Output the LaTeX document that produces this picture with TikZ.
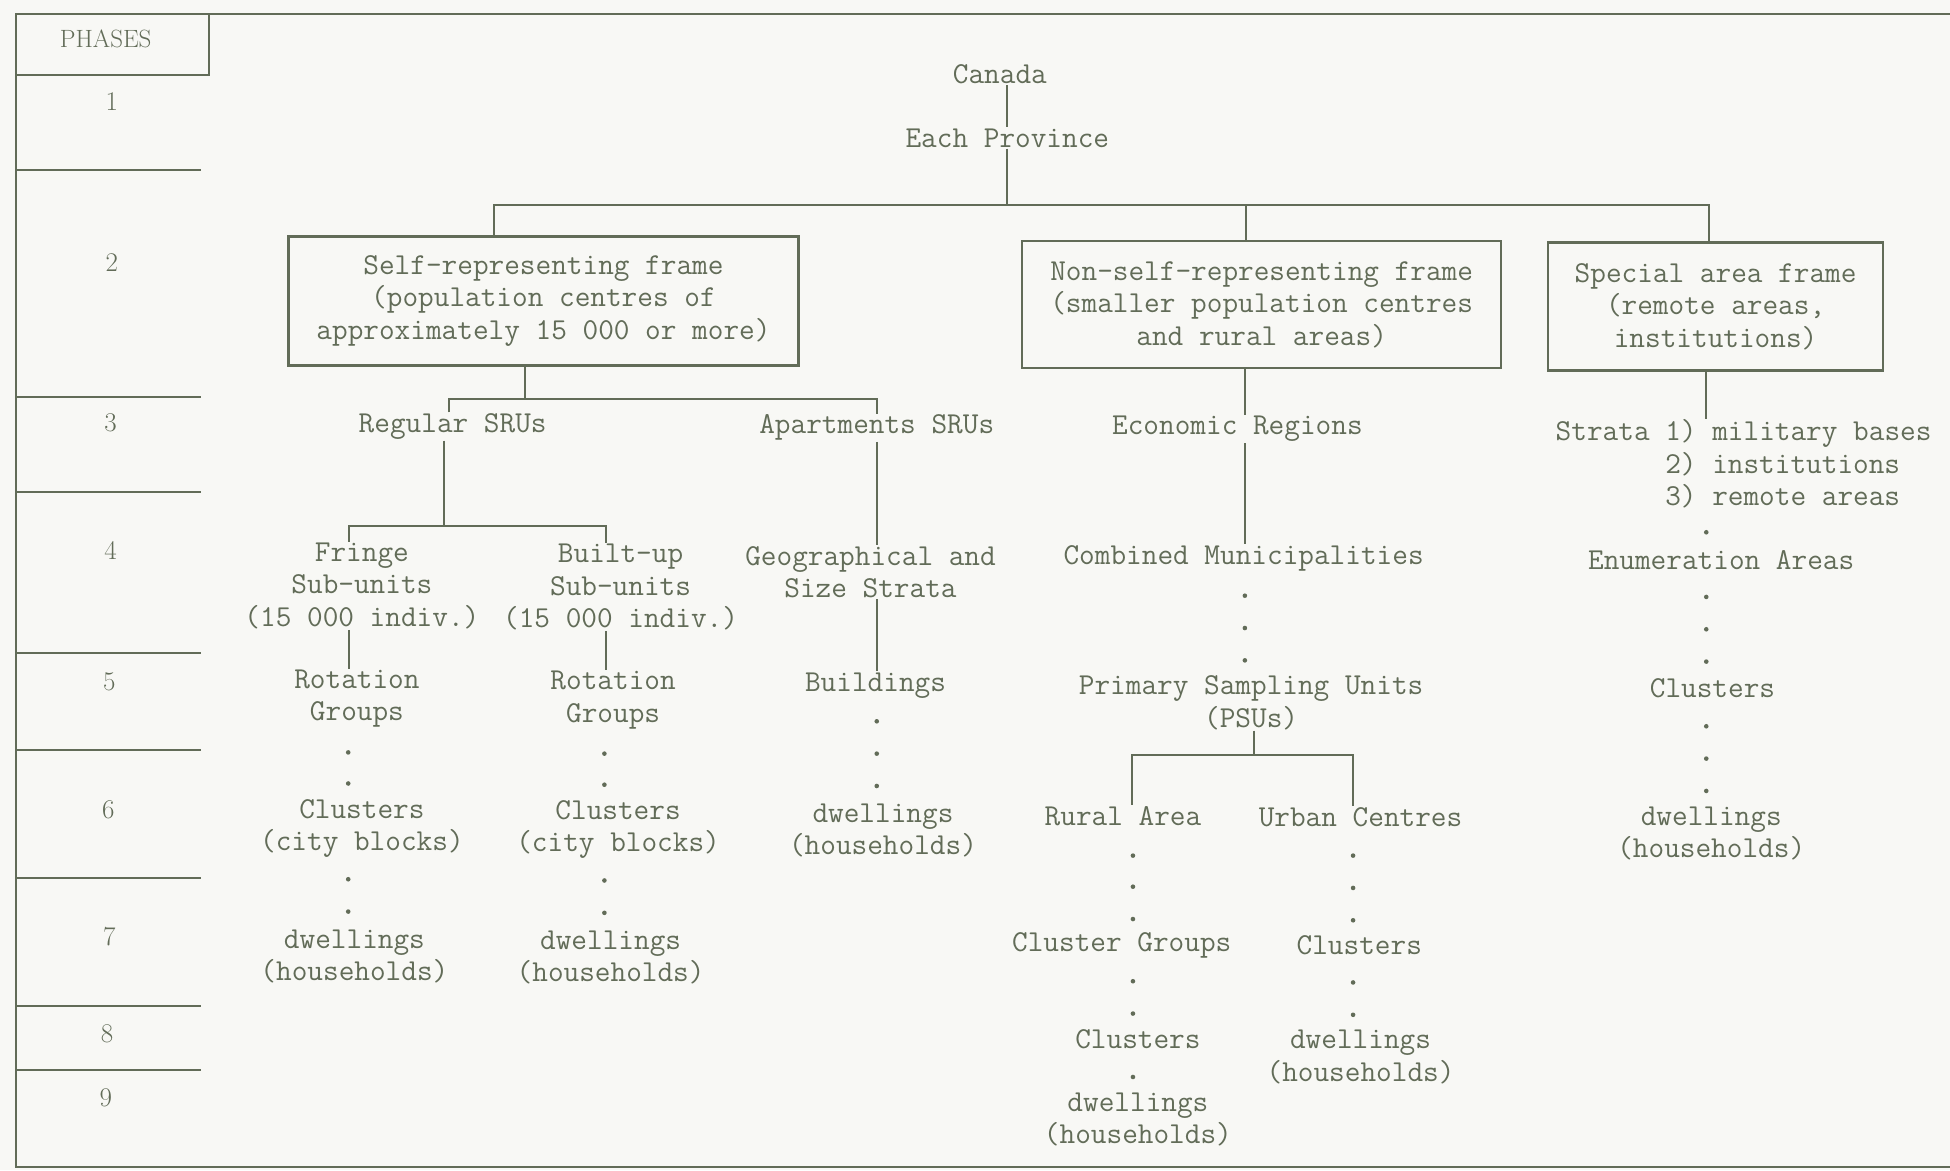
\documentclass[tikz,border=0pt]{standalone}
\usetikzlibrary{calc}
\definecolor{ink}{RGB}{98,108,88}
\definecolor{paper}{RGB}{248,248,245}
\begin{document}
\begin{tikzpicture}[x=1.2436pt,y=-1.2436pt,
  tx/.style={font=\fontsize{30.4}{32.3}\selectfont\ttfamily, text=ink, align=center, inner sep=1pt},
  ph/.style={font=\fontsize{27}{29}\selectfont\rmfamily, text=ink, inner sep=0pt},
  framebox/.style={tx, draw=ink, line width=2.3pt},
  ln/.style={draw=ink, line width=2pt},
  dotm/.style={fill=ink}
  ]
\fill[paper] (0,0) rectangle (1568,941);
\useasboundingbox (0,0) rectangle (1568,941);

% phases column
\draw[ln] (1568,11) -- (13,11) -- (13,938) -- (1568,938);
\draw[ln] (13,60) -- (168,60) -- (168,11);
\foreach \yy in {137,319,396,525,603,706,809,860}
  \draw[ln] (13,\yy) -- (162,\yy);
\node[ph, font=\fontsize{25}{27}\selectfont\rmfamily] (phh) at (85,31) {PHASES};
\node[ph] (p1) at (90,82) {1};
\node[ph] (p2) at (90,211) {2};
\node[ph] (p3) at (89,340) {3};
\node[ph] (p4) at (89,443) {4};
\node[ph] (p5) at (88,548) {5};
\node[ph] (p6) at (87,651) {6};
\node[ph] (p7) at (88,753) {7};
\node[ph] (p8) at (86,831) {8};
\node[ph] (p9) at (85,883) {9};

% top
\node[tx] (canada) at (804,60) {Canada};
\node[tx] (prov) at (810,111) {Each Province};

% frames
\node[framebox, minimum width=510pt, minimum height=129pt] (srf) at (437,242)
  {Self-representing frame\\(population centres of\\approximately 15 000 or more)};
\node[framebox, minimum width=479pt, minimum height=127pt] (nsr) at (1014.5,245)
  {Non-self-representing frame\\(smaller population centres\\and rural areas)};
\node[framebox, minimum width=334.5pt, minimum height=128pt] (spec) at (1379.5,246.5)
  {Special area frame\\(remote areas,\\institutions)};

% self-representing branch
\node[tx] (reg) at (364,343) {Regular SRUs};
\node[tx] (apt) at (705,344) {Apartments SRUs};
\node[tx] (fr) at (291,471) {Fringe\\Sub-units\\(15 000 indiv.)};
\node[tx] (bu) at (499,472) {Built-up\\Sub-units\\(15 000 indiv.)};
\node[tx] (geo) at (700,460) {Geographical and\\Size Strata};
\node[tx] (bld) at (704,551) {Buildings};
\node[tx] (rot1) at (287,562) {Rotation\\Groups};
\node[tx] (rot2) at (493,563) {Rotation\\Groups};
\node[tx] (cl1) at (291,666) {Clusters\\(city blocks)};
\node[tx] (cl2) at (497,667) {Clusters\\(city blocks)};
\node[tx] (dw1) at (285,769) {dwellings\\(households)};
\node[tx] (dw2) at (491,770) {dwellings\\(households)};
\node[tx] (dw3) at (710,668) {dwellings\\(households)};

% non-self-representing branch
\node[tx] (er) at (995,345) {Economic Regions};
\node[tx] (cm) at (1000,449) {Combined Municipalities};
\node[tx] (psu) at (1006,565) {Primary Sampling Units\\(PSUs)};
\node[tx] (rur) at (903,656) {Rural Area};
\node[tx] (urb) at (1094,657) {Urban Centres};
\node[tx] (cg) at (902,760) {Cluster Groups};
\node[tx] (cl3) at (915,836) {Clusters};
\node[tx] (dw4) at (915,900) {dwellings\\(households)};
\node[tx] (cl4) at (1093,760) {Clusters};
\node[tx] (dw5) at (1094,850) {dwellings\\(households)};

% special area branch
\node[tx, anchor=west, align=left] (str) at (1250,373)
  {Strata 1) military bases\\\hphantom{Strata }2) institutions\\\hphantom{Strata }3) remote areas};
\node[tx] (ea) at (1384,450) {Enumeration Areas};
\node[tx] (cl5) at (1377,553) {Clusters};
\node[tx] (dw6) at (1376,670) {dwellings\\(households)};

% connectors
\coordinate (b1) at (810,165);
\coordinate (b2) at (422,321);
\coordinate (b3) at (357,423);
\coordinate (b4) at (1008,607);
\coordinate (xa) at (281,0);
\coordinate (xb) at (487,0);
\coordinate (xp) at (705,0);
\coordinate (xc) at (1001,0);
\coordinate (xr) at (910,0);
\coordinate (xu) at (1088,0);
\coordinate (xs) at (1372,0);
\coordinate (xl) at (397,0);
\coordinate (xn) at (1002,0);
\coordinate (xt) at (1374,0);
\coordinate (xg) at (361,0);

\draw[ln] (canada.south -| b1) -- (prov.north -| b1);
\draw[ln] (prov.south -| b1) -- (b1);
\draw[ln] (srf.north -| xl) |- (b1) -| (spec.north -| xt);
\draw[ln] (nsr.north -| xn) -- (b1 -| xn);

\draw[ln] (srf.south -| b2) -- (b2);
\draw[ln] (reg.north -| xg) |- (b2) -| (apt.north -| xp);
\draw[ln] (reg.south -| b3) -- (b3);
\draw[ln] (fr.north -| xa) |- (b3) -| (bu.north -| xb);
\draw[ln] (apt.south -| xp) -- (geo.north -| xp);
\draw[ln] (geo.south -| xp) -- (bld.north -| xp);
\draw[ln] (fr.south -| xa) -- (rot1.north -| xa);
\draw[ln] (bu.south -| xb) -- (rot2.north -| xb);

\draw[ln] (nsr.south -| xc) -- (er.north -| xc);
\draw[ln] (er.south -| xc) -- (cm.north -| xc);
\draw[ln] (psu.south -| b4) -- (b4);
\draw[ln] (rur.north -| xr) |- (b4) -| (urb.north -| xu);

\draw[ln] (spec.south -| xs) -- (str.north -| xs);

% dotted links (typed periods)
\foreach \px/\py in {280/605,280/630,280/707,280/733,
  486/606,486/631,486/708,486/734,
  705/580,705/606,705/632,
  1001/479,1001/505,1001/531,
  911/688,911/713,911/739,911/789,911/815,911/866,
  1088/688,1088/714,1088/740,1088/790,1088/816,
  1372/428,1372/480,1372/506,1372/532,1372/584,1372/610,1372/636}
  \fill[dotm] (\px,\py) circle (2.3pt);
\end{tikzpicture}
\end{document}
